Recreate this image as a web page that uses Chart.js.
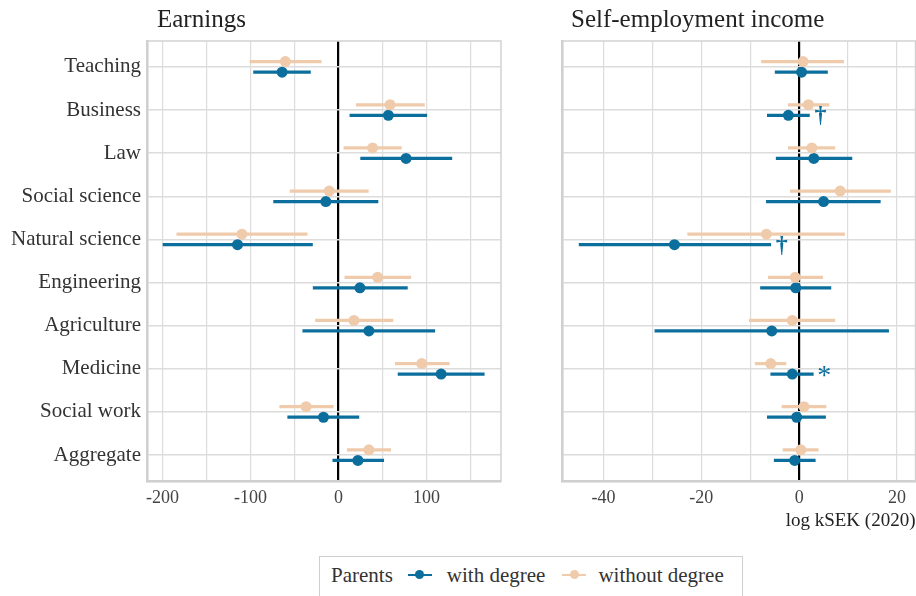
<!DOCTYPE html>
<html>
<head>
<meta charset="utf-8">
<script src="https://cdn.jsdelivr.net/npm/chart.js@4.4.1/dist/chart.umd.min.js"></script>
<style>
  body { margin: 0; background: #fff; font-family: "Liberation Serif", serif; color: #222; }
  #wrap { position: relative; width: 916px; height: 596px; overflow: hidden; }
  canvas { position: absolute; top: 0; }
  #leftChart { left: 0; }
  #rightChart { left: 540px; }
  .title { position: absolute; top: 6px; font-size: 25px; line-height: 25px; color: #222; }
  #legend {
    position: absolute; left: 319px; top: 556px; width: 424px; height: 60px;
    border: 1.5px solid #cfcfcf; box-sizing: border-box;
    padding: 7px 0 0 11px; font-size: 21px; line-height: 22px; color: #333;
  }
  #legend .inner { display: flex; align-items: center; height: 22px; }
  .key { position: relative; display: inline-block; width: 24px; height: 2.5px; }
  .key::after { content: ""; position: absolute; left: 7.5px; top: -3.75px; width: 9px; height: 9px; border-radius: 50%; background: inherit; }
</style>
</head>
<body>
<div id="wrap">
  <canvas id="leftChart" width="510" height="536"></canvas>
  <canvas id="rightChart" width="381" height="536"></canvas>
  <div class="title" style="left:157px">Earnings</div>
  <div class="title" style="left:571px">Self-employment income</div>
  <div id="legend"><div class="inner">
    <span>Parents</span>
    <span class="key" style="background:#0b6e9d; margin-left:15px"></span>
    <span style="margin-left:15px">with degree</span>
    <span class="key" style="background:#efcbac; margin-left:17px"></span>
    <span style="margin-left:12px">without degree</span>
  </div></div>
</div>

<script>
const categories = ["Teaching", "Business", "Law", "Social science", "Natural science",
  "Engineering", "Agriculture", "Medicine", "Social work", "Aggregate"];

// Earnings, parents with degree
const earnWithEst = [-64.1, 56.6, 76.7, -14.4, -114.7, 24.3, 34.5, 116.5, -17.1, 22.0];
const earnWithLo = [-96.5, 12.9, 25.1, -73.7, -199.3, -28.8, -40.6, 67.6, -57.7, -6.5];
const earnWithHi = [-31.9, 100.2, 128.7, 44.8, -29.6, 78.2, 109.3, 165.5, 23.1, 51.3];
// Earnings, parents without degree
const earnWithoutEst = [-60.4, 58.5, 38.7, -10.6, -109.7, 44.4, 17.5, 94.5, -36.8, 34.5];
const earnWithoutLo = [-100.6, 20.1, 6.1, -55.0, -183.7, 7.2, -26.2, 64.5, -66.8, 9.9];
const earnWithoutHi = [-19.7, 97.6, 71.4, 33.8, -35.7, 82.0, 61.8, 125.7, -6.1, 59.2];

// Self-employment income, parents with degree
const selfWithEst = [0.5, -2.2, 3.0, 5.0, -25.5, -0.7, -5.6, -1.4, -0.5, -0.9];
const selfWithLo = [-4.9, -6.5, -4.7, -6.7, -45.0, -7.9, -29.5, -5.8, -6.5, -5.1];
const selfWithHi = [5.8, 2.1, 10.8, 16.6, -5.8, 6.5, 18.3, 2.9, 5.4, 3.3];
// Self-employment income, parents without degree
const selfWithoutEst = [0.8, 1.9, 2.6, 8.4, -6.7, -0.8, -1.4, -5.8, 1.0, 0.35];
const selfWithoutLo = [-7.7, -2.2, -2.2, -1.8, -22.8, -6.3, -10.2, -9.0, -3.5, -3.3];
const selfWithoutHi = [9.1, 6.1, 7.3, 18.7, 9.3, 4.8, 7.3, -2.7, 5.5, 3.9];

// significance marks next to "with degree" estimates (self-employment)
const selfWithMarks = ["", "\u2020", "", "", "\u2020", "", "", "*", "", ""];

const earnTicks = [-200, -150, -100, -50, 0, 50, 100, 150];
const earnTickLabels = [-200, -100, 0, 100];
const selfTicks = [-40, -30, -20, -10, 0, 10, 20];
const selfTickLabels = [-40, -20, 0, 20];

const blue = "#0b6e9d";
const beige = "#efcbac";
const dodge = 0.122;

Chart.defaults.font.family = '"Liberation Serif", serif';
Chart.defaults.color = "#333";

function makeDatasets(wEst, wLo, wHi, woEst, woLo, woHi) {
    const bar = (lo, hi, off, color) => ({
        type: "bar",
        indexAxis: "y",
        grouped: false,
        barThickness: 2.6,
        backgroundColor: color,
        borderWidth: 0,
        data: categories.map((c, i) => ({ x: [lo[i], hi[i]], y: i + 1 + off }))
    });
    const dots = (est, off, color) => ({
        type: "scatter",
        pointRadius: 5.5,
        pointBackgroundColor: color,
        pointBorderWidth: 0,
        data: categories.map((c, i) => ({ x: est[i], y: i + 1 + off }))
    });
    return [
        bar(woLo, woHi, -dodge, beige),
        dots(woEst, -dodge, beige),
        bar(wLo, wHi, dodge, blue),
        dots(wEst, dodge, blue)
    ];
}

// light frame around the panel
const framePlugin = {
    id: "frame",
    beforeDatasetsDraw(chart) {
        const a = chart.chartArea, ctx = chart.ctx;
        ctx.save();
        ctx.strokeStyle = "#d2d2d2";
        ctx.lineWidth = 1.5;
        ctx.strokeRect(a.left, a.top, a.right - a.left, a.bottom - a.top);
        ctx.restore();
    }
};

// daggers / stars after the upper bound of the "with degree" interval
const marksPlugin = {
    id: "marks",
    afterDatasetsDraw(chart) {
        const ctx = chart.ctx, xs = chart.scales.x, ys = chart.scales.y;
        ctx.save();
        ctx.fillStyle = blue;
        ctx.textAlign = "center";
        ctx.textBaseline = "middle";
        selfWithMarks.forEach((m, i) => {
            if (!m) return;
            ctx.font = m === "*" ? '28px "Liberation Serif"' : 'bold 24px "Liberation Serif"';
            const x = xs.getPixelForValue(selfWithHi[i]) + 11;
            const y = ys.getPixelForValue(i + 1 + dodge) + (m === "*" ? 3 : 1);
            ctx.fillText(m, x, y);
        });
        ctx.restore();
    }
};

function makeOptions(xMin, xMax, ticks, labels, showCats, xTitle, yWidth, padRight) {
    return {
        responsive: false,
        animation: false,
        layout: { padding: { top: 41, right: padRight, left: 0, bottom: 0 } },
        plugins: { legend: { display: false }, tooltip: { enabled: false } },
        scales: {
            x: {
                type: "linear",
                min: xMin,
                max: xMax,
                offset: false,
                afterBuildTicks: s => { s.ticks = ticks.map(v => ({ value: v })); },
                afterFit: s => { s.height = 55; },
                ticks: {
                    padding: 6,
                    font: { size: 18 },
                    color: "#444",
                    callback: v => labels.includes(v) ? String(v) : ""
                },
                grid: {
                    offset: false,
                    drawTicks: false,
                    color: c => c.tick && c.tick.value === 0 ? "#000" : "#dcdcdc",
                    lineWidth: c => c.tick && c.tick.value === 0 ? 2.2 : 1.2
                },
                border: { display: true, color: "#c8c8c8", width: 2.5 },
                title: {
                    display: !!xTitle,
                    text: xTitle,
                    align: "end",
                    font: { size: 19 },
                    color: "#222",
                    padding: { top: 4 }
                }
            },
            y: {
                type: "linear",
                reverse: true,
                min: 0.4,
                max: 10.6,
                offset: false,
                afterBuildTicks: s => { s.ticks = categories.map((c, i) => ({ value: i + 1 })); },
                afterFit: s => { s.width = yWidth; },
                ticks: {
                    display: showCats,
                    padding: 6,
                    font: { size: 21 },
                    color: "#333",
                    callback: v => categories[v - 1]
                },
                grid: { offset: false, drawTicks: false, color: "#dcdcdc", lineWidth: 1.4 },
                border: { display: true, color: "#c8c8c8", width: 2.5 }
            }
        }
    };
}

new Chart(document.getElementById("leftChart"), {
    type: "scatter",
    data: { datasets: makeDatasets(earnWithEst, earnWithLo, earnWithHi, earnWithoutEst, earnWithoutLo, earnWithoutHi) },
    options: makeOptions(-217.5, 184.5, earnTicks, earnTickLabels, true, "", 147, 9),
    plugins: [framePlugin]
});

new Chart(document.getElementById("rightChart"), {
    type: "scatter",
    data: { datasets: makeDatasets(selfWithEst, selfWithLo, selfWithHi, selfWithoutEst, selfWithoutLo, selfWithoutHi) },
    options: makeOptions(-48.5, 23.8, selfTicks, selfTickLabels, false, "log kSEK (2020)", 22, 0),
    plugins: [framePlugin, marksPlugin]
});
</script>
</body>
</html>
